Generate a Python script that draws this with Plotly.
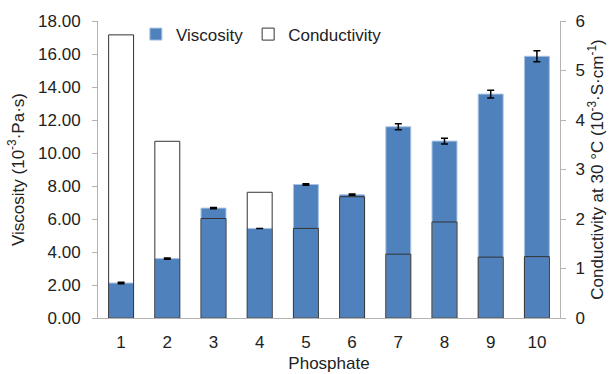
import plotly.graph_objects as go

categories = ["1", "2", "3", "4", "5", "6", "7", "8", "9", "10"]
viscosity = [2.12, 3.60, 6.66, 5.43, 8.09, 7.47, 11.59, 10.72, 13.57, 15.86]
viscosity_err = [0.05, 0.04, 0.04, 0.0, 0.05, 0.05, 0.18, 0.17, 0.23, 0.33]
conductivity = [5.72, 3.57, 2.01, 2.54, 1.81, 2.45, 1.29, 1.94, 1.23, 1.24]
left_ticks = [0, 2, 4, 6, 8, 10, 12, 14, 16, 18]
right_ticks = [0, 1, 2, 3, 4, 5, 6]

BLUE = "#4f81bd"
FONT = "Liberation Sans, Arial, sans-serif"
TXT = "#222222"
AX = "#b3b3b3"
FS = 17

fig = go.Figure()
fig.add_trace(go.Bar(
    x=categories, y=viscosity, name="Viscosity", yaxis="y",
    width=0.54,
    marker=dict(color=BLUE, line=dict(color="#a9c3e3", width=1)),
    error_y=dict(type="data", array=viscosity_err, visible=True,
                 color="#000000", thickness=1.5, width=3.5),
))
fig.add_trace(go.Bar(
    x=categories, y=conductivity, name="Conductivity", yaxis="y2",
    width=0.54,
    marker=dict(color="rgba(255,255,255,0)", line=dict(color="#333333", width=1)),
))

fig.update_layout(
    width=612, height=374,
    margin=dict(l=98, r=52, t=21, b=56),
    paper_bgcolor="white", plot_bgcolor="white",
    barmode="overlay",
    font=dict(family=FONT, size=FS, color=TXT),
    showlegend=True,
    legend=dict(orientation="h", x=0.082, y=1.015, xanchor="left", yanchor="top",
                bgcolor="rgba(0,0,0,0)", font=dict(size=FS, color=TXT),
                traceorder="normal", itemwidth=30),
    xaxis=dict(
        type="category", showline=True, linecolor=AX, linewidth=1,
        ticks="", showgrid=False, zeroline=False, automargin=False,
        ticklabelstandoff=9,
        title=dict(text="Phosphate", font=dict(size=FS), standoff=5),
        tickfont=dict(size=FS),
    ),
    yaxis=dict(
        range=[0, 18], tickvals=left_ticks, tickformat=".2f",
        showline=True, linecolor=AX, linewidth=1,
        ticks="outside", ticklen=5, tickcolor=AX, automargin=False,
        ticklabelstandoff=8,
        showgrid=False, zeroline=False,
        title=dict(text="Viscosity (10<sup>-3</sup>·Pa·s)", font=dict(size=FS), standoff=9),
        tickfont=dict(size=FS),
    ),
    yaxis2=dict(
        range=[0, 6], tickvals=right_ticks, overlaying="y", side="right",
        showline=True, linecolor=AX, linewidth=1,
        ticks="outside", ticklen=5, tickcolor=AX, automargin=False,
        ticklabelstandoff=6,
        showgrid=False, zeroline=False,
        title=dict(text="Conductivity at 30 °C (10<sup>-3</sup>·S·cm<sup>-1</sup>)",
                   font=dict(size=FS), standoff=6),
        tickfont=dict(size=FS),
    ),
)

fig.write_html("out.html")
